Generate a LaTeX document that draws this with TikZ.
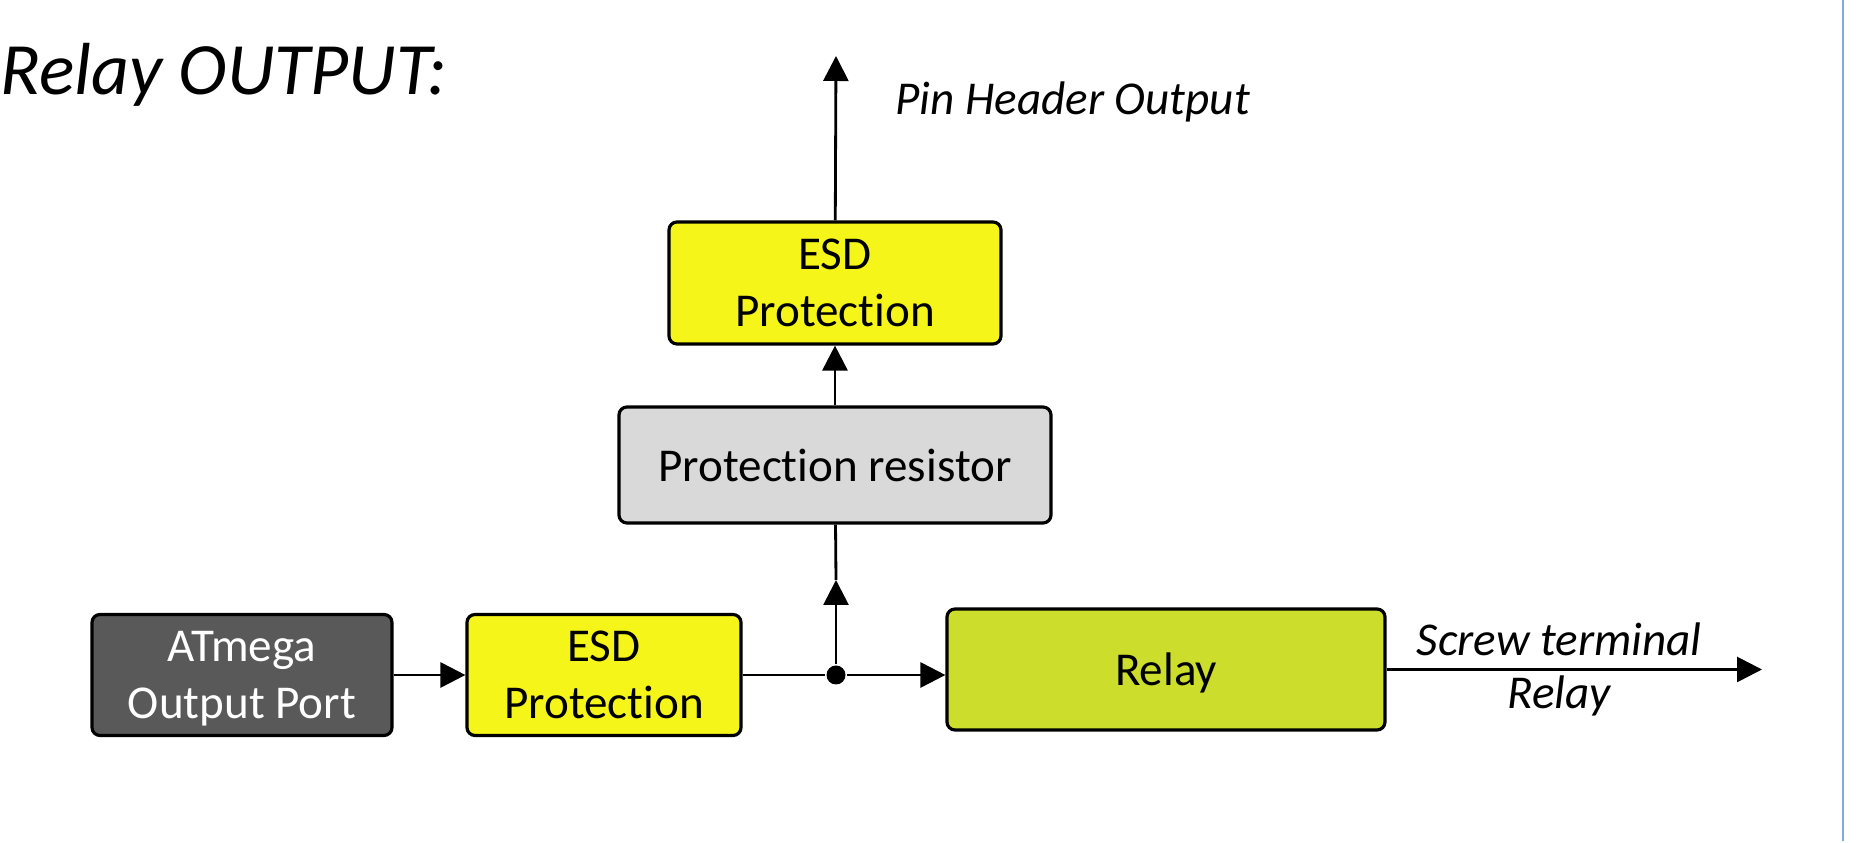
\documentclass[tikz,border=0pt]{standalone}
\usepackage{fontspec}
\setmainfont{Carlito}[Ligatures=NoCommon]
\usetikzlibrary{arrows.meta}
\definecolor{esdyellow}{RGB}{245,245,25}
\definecolor{relaygreen}{RGB}{204,221,43}
\definecolor{resgray}{RGB}{217,217,217}
\definecolor{atgray}{RGB}{89,89,89}
\definecolor{frameblue}{RGB}{125,170,220}

\begin{document}
\begin{tikzpicture}[line width=0.8pt,
  blk/.style={draw, line width=0.9pt, rounded corners=0.08cm, align=center, inner sep=0pt,
    text depth=0pt, font=\fontsize{13.4}{16.3}\selectfont},
  lbl/.style={inner sep=0pt, font=\fontsize{13.4}{15.1}\selectfont\itshape},
  tip/.style={-{Triangle[length=0.25cm,width=0.25cm]}}]
  \def\w{18.64};
  \def\h{8.43};
  \def\bx{8.36};
  \def\by{1.68};
  \useasboundingbox (0,0) rectangle (\w,\h);
  \node[anchor=base west, inner sep=0pt, font=\fontsize{21}{25}\selectfont\itshape] (title) at (-0.01,7.48) {Relay OUTPUT:};
  %blocks
  \node[blk, fill=atgray, text=white, minimum width=3.00cm, minimum height=1.21cm] (atmega) at (2.42,\by) {ATmega\\Output Port};
  \node[blk, fill=esdyellow, minimum width=2.74cm, minimum height=1.21cm] (esdin) at (6.04,\by) {ESD\\Protection};
  \node[blk, fill=relaygreen, minimum width=4.38cm, minimum height=1.21cm] (relay) at (11.66,1.735) {Relay};
  \node[blk, fill=resgray, minimum width=4.32cm, minimum height=1.16cm] (resistor) at (8.35,3.78) {Protection resistor};
  \node[blk, fill=esdyellow, minimum width=3.32cm, minimum height=1.22cm] (esdout) at (8.35,5.60) {ESD\\Protection};
  \node[circle, fill, inner sep=0pt, minimum size=0.19cm] (junction) at (\bx,\by) {};
  \coordinate (mid) at (\bx,2.63);
  \coordinate (pin) at (\bx,7.87);
  \coordinate (out) at (17.62,1.735);
  %connections
  \draw[tip] (atmega) -- (esdin);
  \draw (esdin) -- (junction);
  \draw[tip] (junction) -- (junction -| relay.west);
  \draw[tip] (junction) -- (mid);
  \draw (mid) -- (resistor);
  \draw[tip] (resistor) -- (esdout);
  \draw[tip] (esdout) -- (pin);
  \draw[tip] (relay) -- node[lbl, align=center, pos=0.46] {Screw terminal\\Relay} (out);
  \node[lbl, anchor=base west] (pinlabel) at (8.94,7.28) {Pin Header Output};
  \draw[frameblue, line width=0.6pt] (18.43,\h) -- (18.43,0.02);
\end{tikzpicture}
\end{document}
